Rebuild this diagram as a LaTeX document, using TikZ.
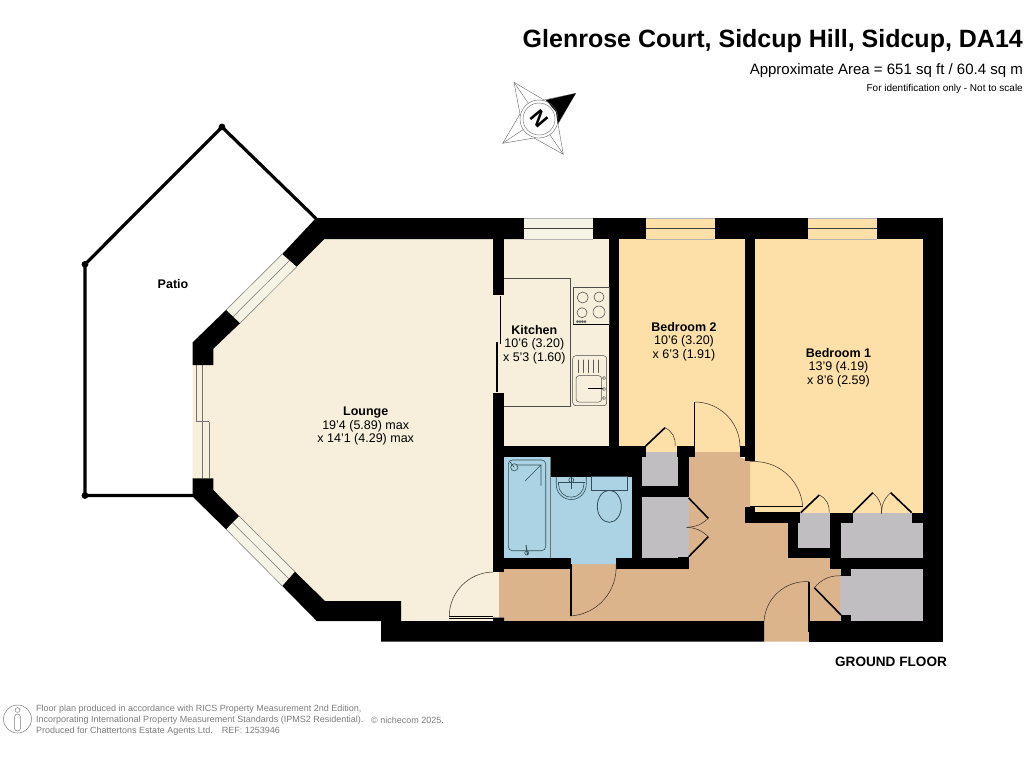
\documentclass[tikz,border=0pt]{standalone}
\usepackage{fontspec}
\setmainfont{Liberation Sans}
\usepackage{xcolor}
\usepackage{tikz}
\usetikzlibrary{positioning}
\definecolor{GlenCream}{HTML}{F7EFDC}
\definecolor{GlenGlass}{HTML}{F5F3E4}
\definecolor{GlenBed}{HTML}{FDDFA8}
\definecolor{GlenHall}{HTML}{DCB48C}
\definecolor{GlenBath}{HTML}{ACD3E3}
\definecolor{GlenCup}{HTML}{C0BEC1}
\definecolor{GlenFoot}{HTML}{7C7C7C}
\definecolor{GlenFit}{HTML}{33505A}
\newcommand{\GlenWall}[4]{\fill[black] (#1,#2) rectangle (#3,#4);}
\newcommand{\GlenLeaf}[4]{\draw[line width=1.6pt] (#1,#2) -- (#3,#4);}
\newcommand{\GlenSwing}[5]{\draw[swingline] (#1,#2) to[#5] (#3,#4);}
\newcommand{\GlenRoom}[5]{\node[roomtext] (#1) at (#2,#3) {\textbf{#4}\\#5};}
\tikzset{
	swingline/.style={line width=0.5pt, color=black!75!GlenHall},
	fitline/.style={line width=0.6pt, color=GlenFit},
	topline/.style={line width=0.6pt, color=black!75},
	glassline/.style={line width=0.5pt, color=black!55},
	roomtext/.style={align=center, inner sep=0pt, font=\fontsize{12.5}{13.5}\selectfont},
	foottext/.style={anchor=west, inner sep=0pt, text=GlenFoot, font=\fontsize{9}{11}\selectfont}
}
\begin{document}
\begin{tikzpicture}[x=1pt,y=-1pt]
	\useasboundingbox (0,0) rectangle (1024,768);
	% room fills
	\fill[GlenCream] (324,239) -- (504,239) -- (504,572) -- (500,572) -- (500,621) -- (401,621) -- (401,601) -- (325,601) -- (192.7,480) -- (192.7,365) -- (213,349) -- cycle;
	\fill[GlenCream] (504,239) rectangle (610,447);
	\fill[GlenBed] (619,239) rectangle (746,447);
	\fill[GlenBed] (640,440) rectangle (745,452);
	\fill[GlenBed] (755,239) rectangle (923,513);
	\fill[GlenBed] (750,461) rectangle (756,507);
	\fill[GlenBed] (755,507) rectangle (803,512);
	\fill[GlenHall] (499,569) -- (570.7,569) -- (570.7,564) -- (616,564) -- (616,569) -- (689,569) -- (689,457) -- (695,457) -- (695,452) -- (740,452) -- (740,457) -- (750,461) -- (750,523) -- (788,523) -- (788,558) -- (841,558) -- (841,621) -- (809,621) -- (809,641.5) -- (764,641.5) -- (764,621) -- (499,621) -- cycle;
	\fill[GlenBath] (504,456) -- (550,456) -- (550,476) -- (633,476) -- (633,559) -- (616,559) -- (616,564) -- (570.7,564) -- (570.7,559) -- (504,559) -- cycle;
	\fill[GlenCup] (645.7,452) rectangle (676.7,458);
	\fill[GlenCup] (642,456.7) rectangle (678.5,486);
	\fill[GlenCup] (642,496.7) rectangle (689,558.5);
	\fill[GlenCup] (798,513) rectangle (830,548.5);
	\fill[GlenCup] (852,513) rectangle (912,523);
	\fill[GlenCup] (841,522.5) rectangle (923,558);
	\fill[GlenCup] (840,569) rectangle (923,621);
	% windows
	\fill[GlenGlass] (524,218) rectangle (592.7,239);
	\fill[GlenBed] (645.7,218) rectangle (715,239);
	\fill[GlenBed] (808,218) rectangle (877,239);
	\fill[GlenGlass] (282.3,254) -- (296.7,266.7) -- (240,323.3) -- (226,310) -- cycle;
	\fill[GlenGlass] (226,529.3) -- (239,516) -- (295,571.7) -- (282.3,586) -- cycle;
	\foreach \a/\b in {524/592.7,645.7/715,808/877}{
		\draw[topline] (\a,228.5) -- (\b,228.5);
		\draw[line width=0.4pt, color=black!30] (\a,218.2) -- (\b,218.2);
		\draw[line width=0.4pt, color=black!30] (\a,238.8) -- (\b,238.8);
	}
	\draw[glassline] (282.3,254) -- (226,310) (289.5,260.5) -- (233,316.7) (296.7,266.7) -- (240,323.3);
	\draw[glassline] (226,529.3) -- (282.3,586) (232.5,522.7) -- (288.7,578.7) (239,516) -- (295,571.7);
	\draw[glassline] (196,365) -- (196,421.7) -- (202.7,421.7) -- (202.7,478.3) (202.7,365) -- (202.7,421.7) (209.3,421.7) -- (209.3,478.3) (202.7,421.7) -- (209.3,421.7);
	% walls
	\fill[black] (316,218) -- (381,218) -- (523.9,218) -- (523.9,239) -- (324.3,239) -- (296.7,266.7) -- (282.3,254) -- cycle;
	\fill[black] (226,310) -- (240,323.3) -- (213.3,348.7) -- (213.3,365) -- (192.7,365) -- (192.7,342.3) -- cycle;
	\fill[black] (192.7,478.3) -- (213.3,478.3) -- (213.3,490) -- (239,516) -- (226,529.3) -- (192.7,496.7) -- cycle;
	\fill[black] (295,571.7) -- (325,601) -- (401,601) -- (401,621) -- (493,621) -- (493,617.5) -- (504,617.5) -- (504,621) -- (764,621) -- (764,641.5) -- (381,641.5) -- (381,621) -- (316.7,621) -- (282.3,586) -- cycle;
	\foreach \xa/\ya/\xb/\yb in {
		592.7/218/645.7/239, 715/218/808/239, 877/218/943.3/239,
		923/218/943.3/641.5, 809/621/943.3/641.5,
		493.3/218/504/295, 493.3/393.3/504/571.7,
		609.3/218/619.3/456.7, 745/218/755/461,
		493.3/446/645.7/456.7, 676.7/446/689/456.7, 550/446/632.3/476.7,
		632.3/456/642.3/569, 678.3/456/689/496.7, 678.3/557/689/569, 504/558.3/570.7/569, 616/558.3/689/569,
		642/485.7/689/496.7, 676.7/446/695/456.7, 740/446/755/456.7,
		745/507/755/523, 745/512/800/523, 788.3/512/798.3/558.3, 788.3/548.3/841/558.3,
		830/512.5/841/569, 830/512.5/852.7/522.7, 911.7/512.5/923/522.7,
		830.7/557.7/923/569, 841/569/851/575.7, 841/615/851/621
	}{
		\GlenWall{\xa}{\ya}{\xb}{\yb}
	}
	% sliding door
	\draw[line width=1.5pt] (500.7,296) -- (500.7,344);
	\draw[line width=1.5pt] (497,341.7) -- (497,392);
	% patio
	\draw[line width=3.2pt] (193,495.5) -- (85,495.5) -- (85,264.3) -- (222,127) -- (316,218.5);
	\foreach \x/\y in {85/495.5,85/264.3,222/127}{
		\fill (\x,\y) circle (3.4pt);
	}
	% door leaves and swings
	\draw[line width=0.5pt] (449.3,616.5) -- (493,616.5);
	\draw[line width=0.5pt] (449.3,618) -- (493,618);
	\GlenSwing{449.3}{617}{493}{572}{bend left=45}
	\GlenLeaf{570.7}{564}{570.7}{616}
	\GlenSwing{570.7}{616}{616}{564}{bend right=45}
	\GlenLeaf{694.5}{402}{694.5}{452}
	\GlenSwing{694.5}{402}{740}{447}{bend left=45}
	\GlenLeaf{750}{506.5}{802.7}{506.5}
	\GlenSwing{750}{461.7}{802.7}{506}{bend left=45}
	\GlenLeaf{809}{581.7}{809}{632}
	\GlenSwing{809}{581.7}{764}{621}{bend right=45}
	\GlenLeaf{645.7}{446}{665}{427.7}
	\GlenSwing{665}{427.7}{675}{446}{bend left=35}
	\GlenLeaf{688.7}{498}{708.3}{518.3}
	\GlenSwing{708.3}{518.3}{686.7}{527.3}{bend left=20}
	\GlenLeaf{688.7}{556.7}{708.3}{536.7}
	\GlenSwing{708.3}{536.7}{686.7}{527.3}{bend right=20}
	\GlenLeaf{800.7}{512.7}{819.3}{495}
	\GlenSwing{819.3}{495}{829}{512.7}{bend left=35}
	\GlenLeaf{852.7}{512.7}{872.7}{492.7}
	\GlenSwing{872.7}{492.7}{881.7}{513.7}{bend left=25}
	\GlenLeaf{911.7}{512.7}{890.7}{492.7}
	\GlenSwing{890.7}{492.7}{881.7}{513.7}{bend right=25}
	\GlenLeaf{841}{615}{814.3}{587.7}
	\GlenSwing{814.3}{587.7}{841}{575.7}{bend left=25}
	% kitchen fittings
	\draw[line width=0.6pt, color=black!70] (504,278.3) -- (570,278.3) -- (570,406) -- (504,406);
	\draw[line width=0.5pt, color=black!70] (573.3,287.7) rectangle (609,324);
	\draw[line width=0.8pt] (573.3,324) -- (609.3,324);
	\foreach \x/\y/\r in {582.7/297.5/5.5,599/297/5,582/312.7/5,599/312/6}{
		\draw[line width=0.5pt, color=black!75] (\x,\y) circle (\r pt);
	}
	\foreach \x in {0,...,3}{
		\draw[line width=0.8pt, color=black!60] (577.5+2.5*\x,321.7) circle (0.9pt);
	}
	\draw[line width=0.5pt, color=black!70, rounded corners=3pt] (572.7,355.7) rectangle (606.7,405.7);
	\draw[line width=0.5pt, color=black!70, rounded corners=3pt] (576,375.7) rectangle (601.7,402);
	\foreach \x in {0,...,4}{
		\draw[line width=1pt, color=black!65, line cap=round] (578+5*\x,360) -- (578+5*\x,372.5);
	}
	\draw[line width=0.8pt] (588,388.7) -- (603,388.7);
	\foreach \y in {378,389,398}{
		\draw[line width=0.5pt, color=black!70] (604,\y) circle (1.6pt);
	}
	% bathroom fittings
	\draw[line width=0.5pt, color=black!55] (550,456.7) -- (550,558);
	\draw[fitline, rounded corners=4pt] (508.3,460) rectangle (545.7,550.7);
	\draw[fitline] (514.3,467.3) circle (3.6pt);
	\draw[fitline] (510,462) -- (514.3,467.3) (516,465) -- (541,465) -- (541,485.7) (541,465) -- (525,481);
	\draw[fitline, line width=1pt] (526,545) -- (527.5,555);
	\draw[fitline] (526.7,553) circle (2pt);
	\draw[fitline] (556.2,476.7) -- (556.2,484.5) arc (180:0:15) -- (586.2,476.7);
	\draw[fitline] (558.5,482) -- (558.5,484.5) arc (180:0:12.7) -- (583.9,482);
	\draw[fitline] (558,482) -- (584.5,482);
	\draw[fitline, line width=1.2pt] (571.3,478) -- (571.3,489);
	\draw[fitline] (571.3,480) circle (2.5pt);
	\draw[fitline] (591,476.7) rectangle (627.7,490.7);
	\draw[fitline, line width=0.8pt] (609.3,506.3) ellipse (12pt and 16pt);
	% captions
	\GlenRoom{lounge}{365.7}{426}{Lounge}{19'4 (5.89) max\\x 14'1 (4.29) max}
	\GlenRoom{kitchen}{534.3}{344.5}{Kitchen}{10'6 (3.20)\\x 5'3 (1.60)}
	\GlenRoom{bedtwo}{684}{341.5}{Bedroom 2}{10'6 (3.20)\\x 6'3 (1.91)}
	\GlenRoom{bedone}{838.5}{367.5}{Bedroom 1}{13'9 (4.19)\\x 8'6 (2.59)}
	\node[inner sep=0pt, font=\fontsize{12.5}{14}\selectfont\bfseries] (patio) at (173,284) {Patio};
	\node[inner sep=0pt, anchor=east, font=\fontsize{25}{28}\selectfont\bfseries] (title) at (1023,41) {Glenrose Court, Sidcup Hill, Sidcup, DA14};
	\node[inner sep=0pt, anchor=east, font=\fontsize{15}{16}\selectfont] (area) at (1023,70.5) {Approximate Area = 651 sq ft / 60.4 sq m};
	\node[inner sep=0pt, anchor=east, font=\fontsize{10}{12}\selectfont] (scale) at (1023,89) {For identification only - Not to scale};
	\node[inner sep=0pt, font=\fontsize{13.6}{15}\selectfont\bfseries] (floor) at (891,661.5) {GROUND FLOOR};
	% compass
	\draw[line width=0.4pt, color=black!60] (514,82.3) -- (544,100) -- (575.7,93.3) -- (558,124) -- (563.3,154.3) -- (534,138) -- (502.7,143.3) -- (520,114) -- cycle;
	\draw[line width=0.4pt, color=black!60] (514,82.3) -- (539,119) -- (502.7,143.3) (539,119) -- (563.3,154.3);
	\fill[white] (539,119) circle (19pt);
	\fill[black] (546,100) -- (575.7,93.3) -- (557.7,124) -- (556,112) -- cycle;
	\draw[line width=0.4pt, color=black!60] (539,119) circle (19pt);
	\draw[line width=0.4pt, color=black!60] (539,119) circle (16pt);
	\node[inner sep=0pt, rotate=-50, font=\fontsize{21}{22}\selectfont\bfseries] (north) at (539,119) {N};
	% footer
	\node[foottext] (noteone) at (36,709) {Floor plan produced in accordance with RICS Property Measurement 2nd Edition,};
	\node[foottext] (notetwo) at (36,720) {Incorporating International Property Measurement Standards (IPMS2 Residential).};
	\node[foottext] (notethree) at (36,731) {Produced for Chattertons Estate Agents Ltd.\quad REF: 1253946};
	\node[foottext] (niche) at (371,720) {© nichecom 2025.};
	\draw[line width=0.5pt, color=GlenFoot] (17.5,719) circle (14pt);
	\draw[line width=0.5pt, color=GlenFoot] (17.5,710) circle (2.4pt);
	\draw[line width=0.5pt, color=GlenFoot, rounded corners=3pt] (14.5,714) rectangle (20.5,731);
\end{tikzpicture}
\end{document}
